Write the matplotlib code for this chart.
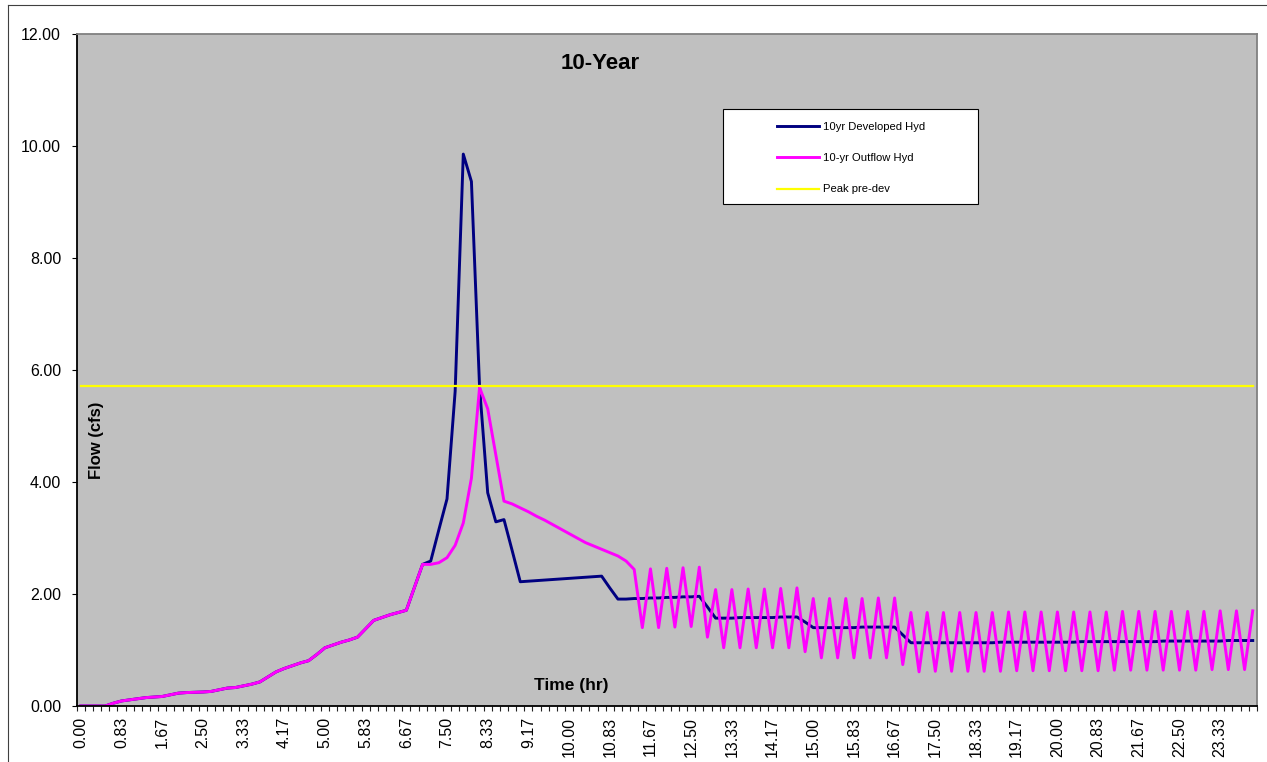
import matplotlib
matplotlib.use("Agg")
import matplotlib.pyplot as plt
from matplotlib.patches import Rectangle
from matplotlib.lines import Line2D
import numpy as np

plt.rcParams['font.family'] = ['Liberation Sans', 'DejaVu Sans']

# ---------------- data (cfs, 10-minute steps from 0 to 24 hr) ----------------
# rising limb shared by both hydrographs (steps 0..41)
rising_limb = [0, 0, 0, 0, 0.05, 0.09, 0.11, 0.13, 0.15, 0.16,
               0.17, 0.20, 0.23, 0.24, 0.245, 0.25, 0.26, 0.29, 0.32, 0.33,
               0.36, 0.39, 0.43, 0.52, 0.61, 0.67, 0.72, 0.77, 0.81, 0.92,
               1.04, 1.09, 1.14, 1.18, 1.23, 1.38, 1.53, 1.58, 1.63, 1.67,
               1.71, 2.12]

# developed hydrograph, steps 42..144
developed_tail = [2.53, 2.59, 3.15, 3.70, 5.62, 9.86, 9.37, 5.70, 3.81, 3.29,
                  3.33, 2.78, 2.22,
                  2.23, 2.24, 2.25, 2.26, 2.27, 2.28, 2.29, 2.30, 2.31, 2.32,
                  2.11, 1.91,
                  1.91, 1.92, 1.92, 1.93, 1.93, 1.94, 1.94, 1.95, 1.95, 1.96,
                  1.77, 1.57,
                  1.57, 1.57, 1.58, 1.58, 1.58, 1.58, 1.58, 1.59, 1.59, 1.59,
                  1.50, 1.40,
                  1.40, 1.40, 1.40, 1.40, 1.40, 1.41, 1.41, 1.41, 1.41, 1.41,
                  1.27, 1.13,
                  1.13, 1.13, 1.13, 1.13, 1.13, 1.13, 1.13, 1.13, 1.13, 1.13,
                  1.14, 1.14, 1.14, 1.14, 1.14, 1.14, 1.14, 1.14, 1.14, 1.14,
                  1.15, 1.15, 1.15, 1.15, 1.15, 1.15, 1.15, 1.15, 1.15, 1.15,
                  1.16, 1.16, 1.16, 1.16, 1.16, 1.16, 1.16, 1.16,
                  1.17, 1.17, 1.17, 1.17]

# outflow hydrograph, steps 42..101
outflow_mid = [2.53, 2.53, 2.56, 2.65, 2.87, 3.27, 4.07, 5.69, 5.31, 4.48,
               3.66, 3.61, 3.54, 3.47, 3.39, 3.32, 3.24, 3.16, 3.08, 3.00,
               2.92, 2.86, 2.80, 2.74, 2.68, 2.59,
               2.44, 1.40, 2.45, 1.40, 2.46, 1.41, 2.47, 1.42, 2.48, 1.23,
               2.08, 1.04, 2.08, 1.04, 2.09, 1.04, 2.09, 1.04, 2.10, 1.04,
               2.11, 0.97,
               1.92, 0.86, 1.92, 0.86, 1.92, 0.86, 1.92, 0.86, 1.93, 0.86,
               1.93, 0.74]
# outflow steps 102..144 alternate between these peaks (even steps) and troughs (odd steps)
outflow_late_peaks = [1.67, 1.67, 1.67, 1.67, 1.67, 1.67, 1.68, 1.68, 1.68, 1.68,
                      1.68, 1.68, 1.68, 1.69, 1.69, 1.69, 1.69, 1.69, 1.69, 1.70,
                      1.70, 1.70]
outflow_late_troughs = [0.61, 0.62, 0.62, 0.62, 0.62, 0.62, 0.63, 0.63, 0.63, 0.63,
                        0.63, 0.63, 0.64, 0.64, 0.64, 0.64, 0.64, 0.64, 0.65, 0.65,
                        0.65]

peak_predev = 5.71

tick_labels = ["0.00", "0.83", "1.67", "2.50", "3.33", "4.17", "5.00", "5.83",
               "6.67", "7.50", "8.33", "9.17", "10.00", "10.83", "11.67",
               "12.50", "13.33", "14.17", "15.00", "15.83", "16.67", "17.50",
               "18.33", "19.17", "20.00", "20.83", "21.67", "22.50", "23.33"]

series_names = ["10yr Developed Hyd", "10-yr Outflow Hyd", "Peak pre-dev"]

# ---------------- assemble ----------------
developed = rising_limb + developed_tail
outflow_late = []
for k in range(len(outflow_late_peaks)):
    outflow_late.append(outflow_late_peaks[k])
    if k < len(outflow_late_troughs):
        outflow_late.append(outflow_late_troughs[k])
outflow = rising_limb + outflow_mid + outflow_late
n = len(developed)
x = np.arange(n)
predev = [peak_predev] * n

# ---------------- figure ----------------
W, H = 1267, 762
fig = plt.figure(figsize=(W / 100, H / 100), dpi=100)
fig.patch.set_facecolor('white')

left, right, top, bottom = 76.7, 1256.8, 34.3, 706.0
ax = fig.add_axes([left / W, 1 - bottom / H, (right - left) / W, (bottom - top) / H])
ax.set_facecolor('#C0C0C0')

ax.plot(x, developed, color='#000080', lw=2.1, label=series_names[0], zorder=2)
ax.plot(x, outflow, color='#FF00FF', lw=2.1, label=series_names[1], zorder=2.1)
ax.plot(x, predev, color='#FFFF00', lw=1.6, label=series_names[2], zorder=2.2)

ax.set_xlim(-0.5, n - 0.5)
ax.set_ylim(0, 12)

yt = np.arange(0, 12.01, 2)
ax.set_yticks(yt)
ax.set_yticklabels([f"{v:.2f}" for v in yt])
ax.tick_params(axis='y', length=3.8, width=0.8, pad=7.5, labelsize=11.5, direction='out')

ax.set_xticks(x[::5][:len(tick_labels)])
ax.set_xticklabels(tick_labels, rotation=90)
ax.set_xticks(np.arange(n + 1) - 0.5, minor=True)
ax.tick_params(axis='x', which='major', length=0, pad=8, labelsize=11.5)
ax.tick_params(axis='x', which='minor', length=3.8, width=0.8, direction='out', color='#222222')

for s in ['left', 'bottom']:
    ax.spines[s].set_color('black')
    ax.spines[s].set_linewidth(1.3)
for s in ['top', 'right']:
    ax.spines[s].set_color('#808080')
    ax.spines[s].set_linewidth(1.3)

ax.text(0.444, 0.956, '10-Year', transform=ax.transAxes, ha='center', va='center',
        fontsize=16, fontweight='bold')

ax.set_xlabel('Time (hr)', fontsize=12.5, fontweight='bold', va='center')
ax.xaxis.set_label_coords(0.419, 0.030)
ax.set_ylabel('Flow (cfs)', fontsize=12, fontweight='bold', va='center')
ax.yaxis.set_label_coords(0.0164, 0.396)

# legend box
box = Rectangle((723 / W, 1 - 204 / H), 255 / W, 95 / H, transform=fig.transFigure,
                facecolor='white', edgecolor='black', lw=0.8, zorder=4.5)
ax.add_artist(box)
leg = ax.legend(loc='upper left', bbox_to_anchor=(776.7 / W, 1 - 121.5 / H),
                bbox_transform=fig.transFigure, frameon=False, fontsize=8.1,
                handlelength=3.8, handletextpad=0.33, labelspacing=1.91,
                borderpad=0, borderaxespad=0)
leg.set_zorder(5)

# chart-area border (left and top)
fig.add_artist(Line2D([8 / W, 8 / W], [0, 1 - 5 / H], transform=fig.transFigure,
                      color='#404040', lw=0.8))
fig.add_artist(Line2D([8 / W, 1], [1 - 5 / H, 1 - 5 / H], transform=fig.transFigure,
                      color='#404040', lw=0.8))

fig.savefig('out.png', dpi=100)
